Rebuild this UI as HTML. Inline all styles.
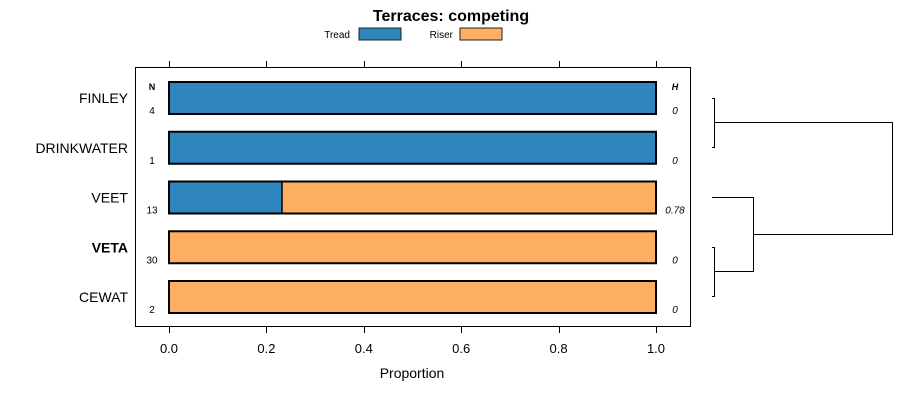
<!DOCTYPE html>
<html><head><meta charset="utf-8"><style>
body{margin:0;background:#fff;}
svg{display:block;font-family:"Liberation Sans",Arial,sans-serif;}
</style></head><body>
<svg id="chart" width="900" height="400">
<text x="451" y="21" text-anchor="middle" font-size="16" font-weight="bold">Terraces: competing</text>
<g>
<text x="350" y="38" text-anchor="end" font-size="10">Tread</text>
<rect x="359" y="28" width="42" height="12" fill="#2e86bd" stroke="#222"/>
<text x="453" y="38" text-anchor="end" font-size="10">Riser</text>
<rect x="460" y="28" width="42" height="12" fill="#fdae61" stroke="#222"/>
</g>
<rect x="135.5" y="67.5" width="555" height="259" fill="none" stroke="#000"/>
<text x="152" y="90" text-anchor="middle" font-size="9" font-weight="bold">N</text>
<text x="675" y="90" text-anchor="middle" font-size="9" font-weight="bold" font-style="italic">H</text>
<g id="axes"></g>
<g id="bars"></g>
<g id="dendro" stroke="#000" fill="none">
<path d="M712 98.5H714.5V147.5H712M714.5 122.5H892.5V234.5H753.5M712 197.5H753.5V271.5H714.5M712 247.5H714.5V296.5H712"/>
</g>
<text x="412" y="378" text-anchor="middle" font-size="14">Proportion</text>
</svg>
<script>
const categories=["FINLEY","DRINKWATER","VEET","VETA","CEWAT"];
const treadValues=[1,1,0.232,0,0];
const riserValues=[0,0,0.768,1,1];
const nValues=["4","1","13","30","2"];
const hValues=["0","0","0.78","0","0"];
const tickLabels=["0.0","0.2","0.4","0.6","0.8","1.0"];
const tickValues=[0,0.2,0.4,0.6,0.8,1];
const boldCategory="VETA";
const NS="http://www.w3.org/2000/svg";
const xs=v=>169+v*487;
const yTop=i=>82+i*49.75;
function mk(t,a,p){const e=document.createElementNS(NS,t);for(const k in a)e.setAttribute(k,a[k]);p.appendChild(e);return e;}
const ax=document.getElementById('axes');
tickValues.forEach((v,i)=>{
  const x=Math.round(xs(v))+0.5;
  const t1=mk('line',{x1:x,x2:x,y1:326,y2:333,stroke:'#000'},ax);
  
  
  const t2=mk('line',{x1:x,x2:x,y1:61,y2:67,stroke:'#000'},ax);
  
  
  const l=mk('text',{x:xs(v),y:353,'text-anchor':'middle','font-size':'13'},ax);
  l.textContent=tickLabels[i];
  
  
});
const bg=document.getElementById('bars');
categories.forEach((c,i)=>{
  const y=yTop(i),h=32;
  if(treadValues[i]>0){const r=mk('rect',{x:xs(0),y:y,width:xs(treadValues[i])-xs(0),height:h,fill:'#2e86bd'},bg);
    
    }
  if(riserValues[i]>0){const r=mk('rect',{x:xs(treadValues[i]),y:y,width:xs(treadValues[i]+riserValues[i])-xs(treadValues[i]),height:h,fill:'#fdae61'},bg);
    
    }
  if(treadValues[i]>0&&riserValues[i]>0){const s=mk('line',{x1:xs(treadValues[i]),x2:xs(treadValues[i]),y1:y,y2:y+h,stroke:'#000','stroke-width':1.5},bg);
    
    }
  const o=mk('rect',{x:xs(0),y:y,width:xs(1)-xs(0),height:h,fill:'none',stroke:'#000','stroke-width':2},bg);
  
  
  const lab=mk('text',{x:128,y:y+21,'text-anchor':'end','font-size':'14','font-weight':c===boldCategory?'bold':'normal'},bg);
  lab.textContent=c;
  
  
  const n=mk('text',{x:152,y:y+32,'text-anchor':'middle','font-size':'10'},bg);
  n.textContent=nValues[i];
  
  
  const hv=mk('text',{x:675,y:y+32,'text-anchor':'middle','font-size':'10','font-style':'italic'},bg);
  hv.textContent=hValues[i];
  
  
});
</script>
</body></html>
